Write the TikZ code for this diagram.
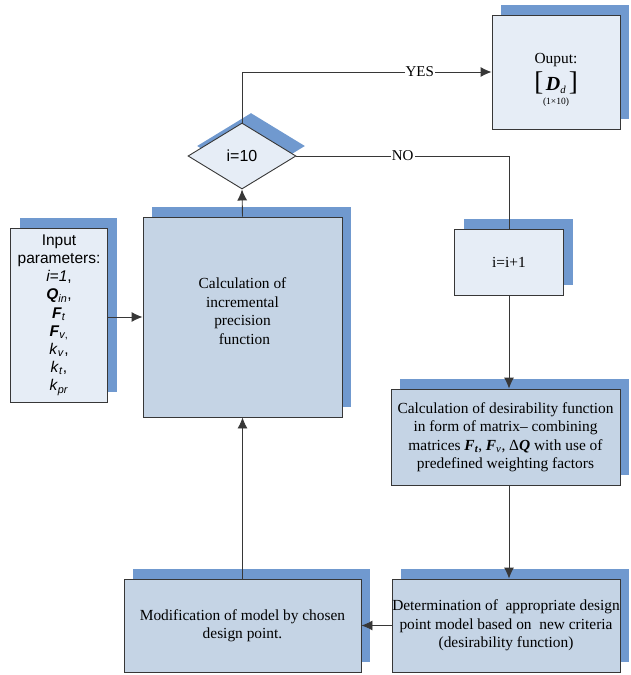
\documentclass[tikz,border=0pt]{standalone}
\usepackage{fontspec}
\setmainfont{Liberation Serif}
\newfontfamily\arial{Liberation Sans}
\usetikzlibrary{shapes.geometric,shadows,arrows.meta}
\definecolor{shcol}{RGB}{112,153,207}
\definecolor{darkfill}{RGB}{197,212,229}
\definecolor{lightfill}{RGB}{230,237,246}
\definecolor{edgecol}{RGB}{55,55,55}
\tikzset{
  box/.style={draw=edgecol, line width=0.9pt, rectangle, inner sep=0pt, align=center,
    general shadow={fill=shcol, shadow xshift=9pt, shadow yshift=10pt},
    font=\fontsize{15.4}{18.5}\selectfont},
  dbox/.style={box, fill=darkfill},
  lbox/.style={box, fill=lightfill},
  txt/.style={align=center, inner sep=0pt, font=\fontsize{15.4}{18.5}\selectfont},
  arr/.style={draw=edgecol, line width=0.9pt, -{Latex[length=11pt,width=10pt]}},
  ln/.style={draw=edgecol, line width=0.9pt},
  lab/.style={fill=white, inner sep=1pt, font=\fontsize{15}{17}\selectfont}
}
\begin{document}
\begin{tikzpicture}[x=1pt,y=-1pt]
\useasboundingbox (0,0) rectangle (630,675);
% boxes
\node[lbox, minimum width=97pt, minimum height=174pt] (in) at (59,315) {};
\node[txt, font=\arial\fontsize{15.5}{18.2}\selectfont] (intxt) at (59,315)
  {Input\\parameters:\\\textit{i=1},\\\textbf{\textit{Q}}\textsubscript{\textit{in}},\\\textbf{\textit{F}}\textsubscript{\textit{t}}\\\textbf{\textit{F}}\textsubscript{\textit{v},}\\\textit{k}\textsubscript{\textit{v}},\\\textit{k}\textsubscript{\textit{t}},\\\textit{k}\textsubscript{\textit{pr}}};
\node[dbox, minimum width=199pt, minimum height=200pt] (calc) at (242.5,317) {};
\node[txt] (calctxt) at (242.5,311)
  {Calculation of\\incremental\\precision\\\ function};
\node[draw=edgecol, line width=0.9pt, diamond, fill=lightfill, inner sep=0pt,
  minimum width=108pt, minimum height=66pt,
  general shadow={fill=shcol, shadow xshift=9pt, shadow yshift=10pt},
  font=\arial\fontsize{16}{18}\selectfont] (dia) at (242,156) {i=10};
\node[lbox, minimum width=128pt, minimum height=114pt] (out) at (556,72) {};
\node[txt] (outa) at (556,60) {Ouput:};
\node[txt] (outb) at (556,83)
  {{\fontsize{27}{27}\selectfont[}\,{\fontsize{20}{20}\selectfont\textbf{\textit{D}}}\textsubscript{\textit{d}}\,{\fontsize{27}{27}\selectfont]}};
\node[txt, font=\fontsize{9.5}{10}\selectfont] (outc) at (556,102) {(1×10)};
\node[lbox, minimum width=109pt, minimum height=66pt] (inc) at (509,262) {i=i+1};
\node[dbox, minimum width=229pt, minimum height=96pt] (des) at (505.5,437)
  {Calculation of desirability function\\in form of matrix– combining\\matrices \textbf{\textit{F\textsubscript{t}}}, \textbf{\textit{F}}\textsubscript{\textit{v}}, Δ\textbf{\textit{Q}} with use of\\predefined weighting factors};
\node[dbox, minimum width=228pt, minimum height=93pt] (det) at (506,625.5)
  {Determination of\ \ appropriate design\\point model based on\ \ new criteria\\(desirability function)};
\node[dbox, minimum width=237pt, minimum height=93pt] (mod) at (242.5,625.5)
  {Modification of model by chosen\\design point.};
% connectors
\draw[arr] (in.east |- calc.west) -- (calc.west);
\draw[arr] (mod.north) -- (calc.south);
\draw[arr] (calc.north) -- (dia.south);
\draw[arr] (dia.north) |- node[lab, pos=0.856] {YES} (out.west);
\draw[ln] (dia.east) -| node[lab, pos=0.25] {NO} (inc.north);
\draw[arr] (inc.south) -- (inc.south |- des.north);
\draw[arr] (inc.south |- des.south) -- (inc.south |- det.north);
\draw[arr] (det.west) -- (mod.east);
\end{tikzpicture}
\end{document}
